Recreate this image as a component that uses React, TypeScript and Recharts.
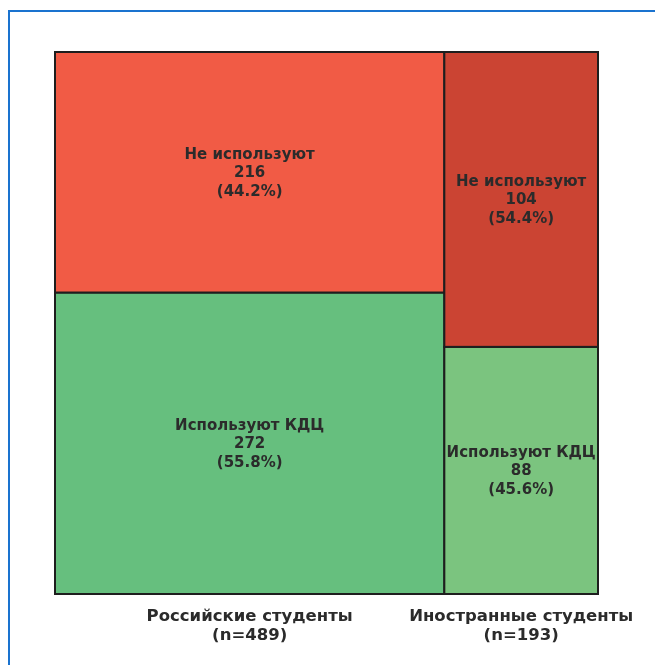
// Mosaic (Marimekko) chart: column width = group size, column split = share of
// students who use / do not use the KDC. Cells are ReferenceAreas on numeric axes.

import { ComposedChart, ReferenceArea, XAxis, YAxis } from 'recharts';

const groups = ['Российские студенты', 'Иностранные студенты'];
const groupN = [489, 193];
const notUsing = [216, 104];
const using = [272, 88];
const notUsingPct = ['44.2%', '54.4%'];
const usingPct = ['55.8%', '45.6%'];

const notUsingLabel = 'Не используют';
const usingLabel = 'Используют КДЦ';

const notUsingColors = ['#F15B45', '#CB4433'];
const usingColors = ['#66BF7E', '#7BC47F'];

const total = groupN.reduce((a, b) => a + b, 0);
const starts = groupN.map((_, i) => groupN.slice(0, i).reduce((a, b) => a + b, 0));
const centers = groupN.map((n, i) => starts[i] + n / 2);

const FONT = '"DejaVu Sans", sans-serif';
const TEXT = '#2b2b2b';

type Cell = {
  key: string;
  x1: number;
  x2: number;
  y1: number;
  y2: number;
  fill: string;
  lines: string[];
};

const cells: Cell[] = groupN.flatMap((n, i) => {
  const usingShare = (using[i] / n) * 100;
  return [
    {
      key: `use-${i}`,
      x1: starts[i],
      x2: starts[i] + n,
      y1: 0,
      y2: usingShare,
      fill: usingColors[i],
      lines: [usingLabel, String(using[i]), `(${usingPct[i]})`],
    },
    {
      key: `not-${i}`,
      x1: starts[i],
      x2: starts[i] + n,
      y1: usingShare,
      y2: 100,
      fill: notUsingColors[i],
      lines: [notUsingLabel, String(notUsing[i]), `(${notUsingPct[i]})`],
    },
  ];
});

function cellShape(lines: string[], fill: string) {
  return (props: any) => {
    const { x, y, width, height } = props;
    const cx = x + width / 2;
    const cy = y + height / 2;
    return (
      <g>
        <rect x={x} y={y} width={width} height={height} fill={fill} stroke="#1e1e1e" strokeWidth={2} />
        <text
          x={cx}
          y={cy}
          textAnchor="middle"
          fontFamily={FONT}
          fontWeight="bold"
          fontSize={15}
          fill={TEXT}
        >
          {lines.map((l, k) => (
            <tspan key={k} x={cx} y={cy + 5 + (k - 1) * 18.5}>
              {l}
            </tspan>
          ))}
        </text>
      </g>
    );
  };
}

function GroupTick(props: any) {
  const { x, y, payload } = props;
  const i = centers.indexOf(payload.value);
  if (i < 0) return null;
  return (
    <text x={x} y={y} textAnchor="middle" fontFamily={FONT} fontWeight="bold" fontSize={16.5} fill={TEXT}>
      <tspan x={x} y={y + 19}>{groups[i]}</tspan>
      <tspan x={x} y={y + 38}>{`(n=${groupN[i]})`}</tspan>
    </text>
  );
}

export default function App() {
  return (
    <div style={{ position: 'relative', width: 639, height: 649 }}>
      <div
        style={{
          position: 'fixed',
          left: 8,
          top: 10,
          width: 700,
          height: 700,
          borderLeft: '2px solid #1a73cf',
          borderTop: '2px solid #1a73cf',
        }}
      />
      <div style={{ position: 'absolute', left: 0, top: 0 }}>
        <ComposedChart width={639} height={649} margin={{ top: 44, right: 49, bottom: 3, left: 47 }}>
          <XAxis
            type="number"
            dataKey="x"
            domain={[0, total]}
            ticks={centers}
            interval={0}
            axisLine={false}
            tickLine={false}
            height={60}
            tick={<GroupTick />}
            allowDataOverflow
          />
          <YAxis type="number" dataKey="y" domain={[0, 100]} hide allowDataOverflow />
          {cells.map((c) => (
            <ReferenceArea
              key={c.key}
              x1={c.x1}
              x2={c.x2}
              y1={c.y1}
              y2={c.y2}
              ifOverflow="visible"
              shape={cellShape(c.lines, c.fill)}
            />
          ))}
        </ComposedChart>
      </div>
    </div>
  );
}
